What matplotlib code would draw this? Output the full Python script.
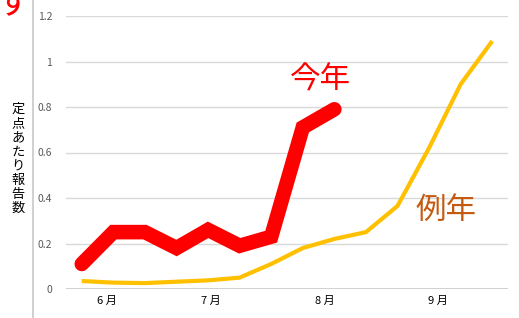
import numpy as np
import matplotlib.pyplot as plt
from matplotlib.lines import Line2D

plt.rcParams['font.family'] = ['Noto Sans CJK JP', 'DejaVu Sans']

# weekly values, week 0 = start of June
this_year = [0.11, 0.25, 0.25, 0.18, 0.26, 0.19, 0.23, 0.71, 0.79]
usual_year = [0.035, 0.028, 0.026, 0.032, 0.038, 0.05, 0.11, 0.18, 0.22,
              0.25, 0.365, 0.62, 0.90, 1.09]
month_pos = [0.79, 4.08, 7.71, 11.27]
month_labels = ['6 月', '7 月', '8 月', '9 月']
yticks = [0, 0.2, 0.4, 0.6, 0.8, 1, 1.2]
ytick_labels = ['0', '0.2', '0.4', '0.6', '0.8', '1', '1.2']

fig = plt.figure(figsize=(5.19, 3.18), dpi=100)
ax = fig.add_axes([66/519, 29/318, 442/519, 273/318])

ax.set_xlim(-0.5, 13.5)
ax.set_ylim(0, 1.2)
ax.set_yticks(yticks)
ax.set_yticklabels(ytick_labels)
ax.set_xticks(month_pos)
ax.set_xticklabels(month_labels)
ax.tick_params(length=0)
ax.tick_params(axis='y', labelsize=7.5, labelcolor='#595959', pad=10)
ax.tick_params(axis='x', labelsize=8, labelcolor='black', pad=5)
for s in ax.spines.values():
    s.set_visible(False)
ax.grid(axis='y', color='#d9d9d9', lw=1)
ax.set_axisbelow(True)
ax.axhline(0, color='#d0d0d0', lw=1.4, zorder=1)

ax.plot(np.arange(len(usual_year)), usual_year, color='#ffc000', lw=3,
        solid_joinstyle='miter', solid_capstyle='butt', zorder=2)
ax.plot(np.arange(len(this_year)), this_year, color='#ff0000', lw=10.5,
        solid_joinstyle='miter', solid_capstyle='round', zorder=3)

ax.text(7.57, 0.92, '今年', color='#ff0000', fontsize=22,
        ha='center', va='center')
ax.text(11.52, 0.347, '例年', color='#c55a11', fontsize=22,
        ha='center', va='center')

# vertical axis title, upright characters
fig.text(18/519, 1 - 159/318, '\n'.join('定点あたり報告数'), fontsize=9.5,
         ha='center', va='center', linespacing=1.12)

# left divider line
fig.add_artist(Line2D([33/519, 33/519], [0, 1], color='#c8c8c8', lw=1.2))

# cropped character from the slide edge
fig.text(-4/519, 1 + 14/318, 'す', color='#ff0000', fontsize=26,
         ha='left', va='top')

fig.savefig('out.png', dpi=100)
